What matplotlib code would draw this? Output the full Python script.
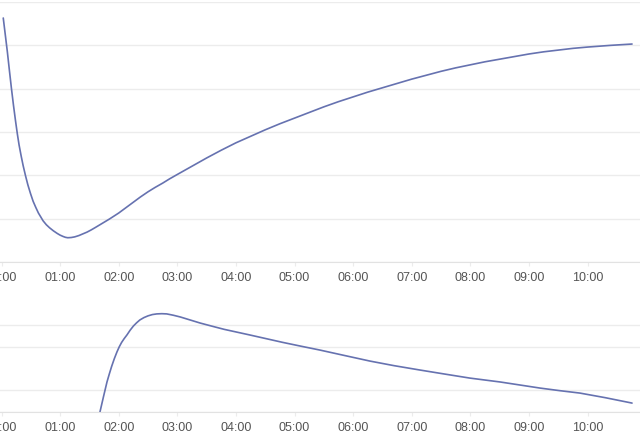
import matplotlib
matplotlib.use("Agg")
import matplotlib.pyplot as plt
import numpy as np

plt.rcParams['font.family'] = ['Liberation Sans', 'DejaVu Sans']

# Top series (time in hours, value in grid units)
top_t = [0.03, 0.065, 0.10, 0.135, 0.17, 0.205, 0.24, 0.27, 0.30, 0.335, 0.37, 0.41,
         0.45, 0.495, 0.54, 0.585, 0.63, 0.67, 0.71, 0.765, 0.82, 0.885, 0.95,
         1.00, 1.05, 1.09, 1.13, 1.19, 1.25, 1.32, 1.39, 1.46, 1.53, 1.60, 1.68, 1.76,
         1.84, 1.92, 2.0, 2.12, 2.24, 2.37, 2.5, 2.62, 2.75, 2.87, 3.0, 3.25, 3.5, 3.75,
         4.0, 4.25, 4.5, 4.75, 5.0, 5.25, 5.5, 5.75, 6.0, 6.25, 6.5, 6.75, 7.0, 7.25,
         7.5, 7.75, 8.0, 8.25, 8.5, 8.75, 9.0, 9.25, 9.5, 9.75, 10.0, 10.2, 10.4, 10.58, 10.76]
top_v = [5.63, 5.24, 4.85, 4.42, 4.00, 3.61, 3.25, 2.96, 2.70, 2.45, 2.22, 1.99,
         1.78, 1.58, 1.40, 1.26, 1.13, 1.04, 0.95, 0.86, 0.79, 0.72, 0.66,
         0.62, 0.59, 0.57, 0.56, 0.565, 0.58, 0.61, 0.65, 0.69, 0.74, 0.795, 0.86, 0.925,
         0.99, 1.06, 1.13, 1.25, 1.37, 1.50, 1.62, 1.72, 1.82, 1.92, 2.02, 2.21, 2.40, 2.58,
         2.75, 2.90, 3.05, 3.19, 3.32, 3.45, 3.58, 3.70, 3.81, 3.92, 4.02, 4.12, 4.22, 4.31,
         4.40, 4.48, 4.55, 4.62, 4.68, 4.74, 4.80, 4.85, 4.89, 4.93, 4.96, 4.98, 5.00, 5.015, 5.03]

# Bottom series
bot_t = [1.60, 1.64, 1.68, 1.71, 1.74, 1.77, 1.80, 1.84, 1.88, 1.925, 1.97, 2.01, 2.05,
         2.095, 2.14, 2.195, 2.25, 2.305, 2.36, 2.43, 2.50, 2.575, 2.65, 2.735,
         2.82, 2.93, 3.05, 3.22, 3.39, 3.60, 3.80, 4.02, 4.24, 4.52, 4.80, 5.12, 5.43,
         5.85, 6.29, 6.70, 7.14, 7.55, 7.99, 8.25, 8.51, 8.85, 9.19, 9.53, 9.87, 10.30, 10.76]
bot_v = [-0.70, -0.35, 0.00, 0.35, 0.70, 1.04, 1.38, 1.75, 2.10, 2.45, 2.76, 3.00, 3.20,
         3.38, 3.54, 3.76, 3.95, 4.10, 4.23, 4.34, 4.42, 4.48, 4.51, 4.52,
         4.51, 4.45, 4.37, 4.23, 4.09, 3.94, 3.80, 3.67, 3.54, 3.37, 3.20, 3.02, 2.85,
         2.60, 2.34, 2.13, 1.93, 1.75, 1.56, 1.47, 1.38, 1.24, 1.10, 0.98, 0.87, 0.66, 0.41]

tick_hours = list(range(0, 11))
tick_labels = [f"{h:02d}:00" for h in tick_hours]
top_grid = [0, 1, 2, 3, 4, 5, 6]
bot_grid = [0, 1, 3, 4]

line_color = '#6672b0'
grid_color = '#ececec'
label_color = '#555555'

W, H = 640, 440
fig = plt.figure(figsize=(W / 100, H / 100), dpi=100)

x0 = -1.5 / 58.6
x1 = 638.5 / 58.6

def style(ax, grid):
    ax.set_xlim(x0, x1)
    ax.set_xticks(tick_hours)
    ax.set_xticklabels(tick_labels)
    ax.set_yticks(grid)
    ax.set_yticklabels([])
    ax.tick_params(axis='y', length=0)
    ax.tick_params(axis='x', length=3, width=0.8, color=grid_color,
                   labelsize=9, labelcolor=label_color, pad=4.5)
    for s in ['top', 'right', 'left']:
        ax.spines[s].set_visible(False)
    ax.spines['bottom'].set_color('#e2e2e2')
    ax.grid(axis='y', color=grid_color, linewidth=1.0)
    ax.set_axisbelow(True)
    ax.set_facecolor('white')

# Top panel: bottom at y=262 px, top at y=2 px
ax1 = fig.add_axes([0, (H - 262) / H, 1, 260 / H])
ax1.plot(top_t, top_v, color=line_color, linewidth=1.2,
         solid_capstyle='round', solid_joinstyle='round')
ax1.set_ylim(0, 6)
style(ax1, top_grid)

# Bottom panel: bottom at y=412 px, top at y=300 px
ax2 = fig.add_axes([0, (H - 412) / H, 1, 112 / H])
ax2.plot(bot_t, bot_v, color=line_color, linewidth=1.2,
         solid_capstyle='round', solid_joinstyle='round')
ax2.set_ylim(0, 112 / 21.75)
style(ax2, bot_grid)

fig.savefig('out.png', dpi=100)
